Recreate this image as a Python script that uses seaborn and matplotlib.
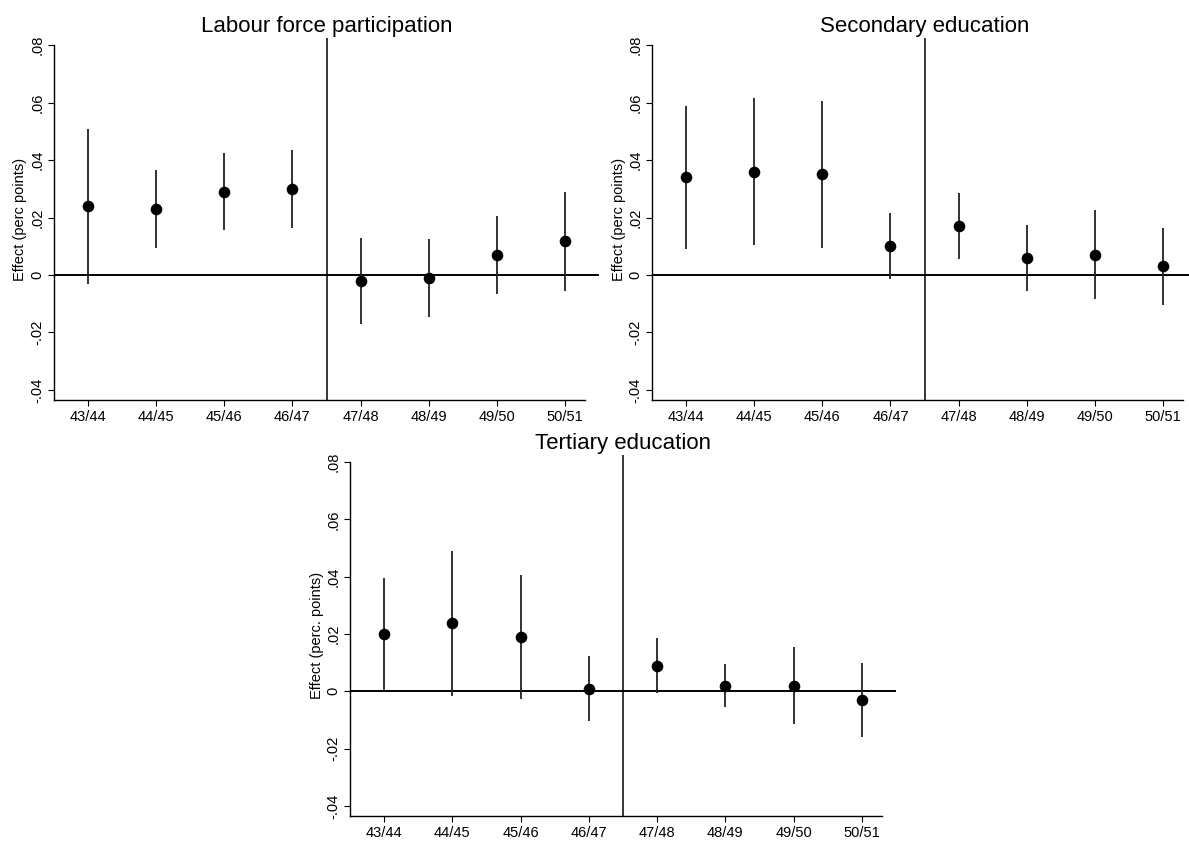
import numpy as np
import pandas as pd
import matplotlib
matplotlib.use("Agg")
import matplotlib.pyplot as plt
import seaborn as sns

# cohorts on the x axis
cohorts = ["43/44", "44/45", "45/46", "46/47", "47/48", "48/49", "49/50", "50/51"]

# Labour force participation
lfp_est = [0.024, 0.023, 0.029, 0.030, -0.002, -0.001, 0.007, 0.012]
lfp_lo = [-0.003, 0.0095, 0.0155, 0.0165, -0.017, -0.0145, -0.0065, -0.0055]
lfp_hi = [0.051, 0.0365, 0.0425, 0.0435, 0.013, 0.0125, 0.0205, 0.029]

# Secondary education
sec_est = [0.034, 0.036, 0.035, 0.010, 0.017, 0.006, 0.007, 0.003]
sec_lo = [0.009, 0.0105, 0.0095, -0.0015, 0.0055, -0.0055, -0.0085, -0.0105]
sec_hi = [0.059, 0.0615, 0.0605, 0.0215, 0.0285, 0.0175, 0.0225, 0.0165]

# Tertiary education
ter_est = [0.020, 0.024, 0.019, 0.001, 0.009, 0.002, 0.002, -0.003]
ter_lo = [0.0005, -0.0015, -0.0025, -0.0105, -0.0005, -0.0055, -0.0115, -0.016]
ter_hi = [0.0395, 0.049, 0.0405, 0.0125, 0.0185, 0.0095, 0.0155, 0.010]

yticks = [-0.04, -0.02, 0, 0.02, 0.04, 0.06, 0.08]
ytick_labels = ["-.04", "-.02", "0", ".02", ".04", ".06", ".08"]

sns.set_theme(style="white")
plt.rcParams["font.family"] = ["Liberation Sans", "DejaVu Sans"]
plt.rcParams.update({"text.color": "black", "axes.labelcolor": "black",
                     "xtick.color": "black", "ytick.color": "black"})

fig = plt.figure(figsize=(11.89, 8.43), dpi=100)

panels = [
    ("Labour force participation", "Effect (perc points)", lfp_est, lfp_lo, lfp_hi,
     [54 / 1189, 1 - 400 / 843, 545 / 1189, 362 / 843]),
    ("Secondary education", "Effect (perc points)", sec_est, sec_lo, sec_hi,
     [652 / 1189, 1 - 400 / 843, 545 / 1189, 362 / 843]),
    ("Tertiary education", "Effect (perc. points)", ter_est, ter_lo, ter_hi,
     [350 / 1189, 1 - 816 / 843, 546 / 1189, 361 / 843]),
]

for title, ylabel, est, lo, hi, rect in panels:
    ax = fig.add_axes(rect)
    df = pd.DataFrame({"pos": np.arange(len(cohorts)), "est": est, "lo": lo, "hi": hi})

    ax.axhline(0, color="black", lw=1.4, zorder=1)
    ax.axvline(3.5, color="black", lw=1.1, zorder=1)
    ax.vlines(df["pos"], df["lo"], df["hi"], color="#222222", lw=1.3, zorder=2)
    sns.scatterplot(data=df, x="pos", y="est", ax=ax, color="black", s=70,
                    edgecolor="black", linewidth=0, zorder=3, legend=False)

    ax.set_xlim(-0.5, 7.5)
    ax.set_ylim(-0.0435, 0.0825)
    ax.set_xticks(np.arange(len(cohorts)))
    ax.set_xticklabels(cohorts, fontsize=10.5)
    ax.set_yticks(yticks)
    ax.set_yticklabels(ytick_labels, rotation=90, va="center", fontsize=10.5)
    ax.set_xlabel("")
    ax.set_ylabel(ylabel, fontsize=10.5, labelpad=2)
    ax.set_title(title, fontsize=16, pad=4, color="black")

    for side in ["top", "right"]:
        ax.spines[side].set_visible(False)
    ax.spines["left"].set_bounds(-0.0435, 0.08)
    ax.spines["bottom"].set_bounds(-0.5, 7.3)
    for side in ["left", "bottom"]:
        ax.spines[side].set_color("black")
        ax.spines[side].set_linewidth(1.0)
    ax.tick_params(axis="both", direction="out", length=4, width=0.8,
                   color="black", pad=3, left=True, bottom=True)

fig.savefig("out.png", dpi=100)
